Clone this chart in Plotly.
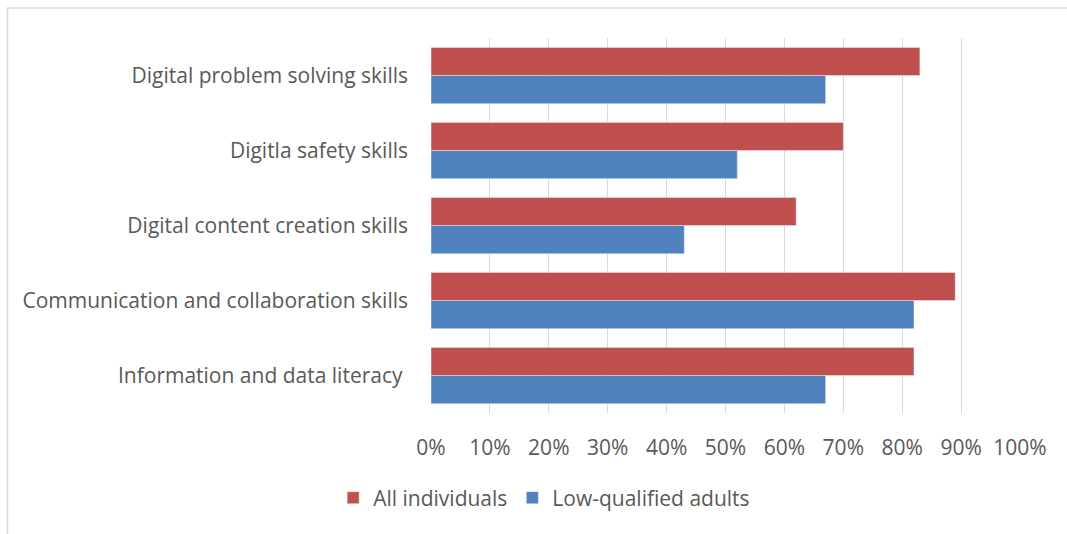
import plotly.graph_objects as go

# Skill categories, listed bottom to top
categories = [
    "Information and data literacy ",
    "Communication and collaboration skills",
    "Digital content creation skills",
    "Digitla safety skills",
    "Digital problem solving skills",
]
all_individuals = [0.82, 0.89, 0.62, 0.70, 0.83]
low_qualified = [0.67, 0.82, 0.43, 0.52, 0.67]

tick_vals = [i / 10 for i in range(11)]
tick_text = [f"{i * 10}%" for i in range(11)]

W, H = 1067, 534
ML, MR, MT, MB = 431, 47, 38, 121

fig = go.Figure()
fig.add_trace(go.Bar(
    y=categories, x=low_qualified, orientation="h",
    name="Low-qualified adults", marker_color="#4F81BD",
    legendrank=2,
))
fig.add_trace(go.Bar(
    y=categories, x=all_individuals, orientation="h",
    name="All individuals", marker_color="#C0504D",
    legendrank=1,
))

pw = W - ML - MR
ph = H - MT - MB
# light frame around the chart area
fig.add_shape(
    type="rect", xref="paper", yref="paper",
    x0=(7.5 - ML) / pw, x1=(W + 20 - ML) / pw,
    y0=-(H + 20 - MT - ph) / ph, y1=1 + (MT - 8) / ph,
    line=dict(color="#D9D9D9", width=1.5), layer="below",
)

font = dict(family="Open Sans, sans-serif", size=21, color="#595959")

fig.update_layout(
    width=W, height=H,
    margin=dict(l=ML, r=MR, t=MT, b=MB, pad=0),
    paper_bgcolor="white", plot_bgcolor="white",
    barmode="group", bargap=0.25, bargroupgap=0,
    font=font,
    showlegend=True,
    legend=dict(
        orientation="h", xref="container", yref="container",
        x=0.51, xanchor="center", y=1 - 498 / H, yanchor="middle",
        font=font, itemwidth=30, tracegroupgap=0,
    ),
    xaxis=dict(
        range=[0, 1], tickvals=tick_vals, ticktext=tick_text,
        showgrid=True, gridcolor="#D9D9D9", gridwidth=1.4,
        zeroline=False, showline=False, ticks="",
        ticklabelstandoff=20, tickfont=font, fixedrange=True,
    ),
    yaxis=dict(
        type="category", showgrid=False, zeroline=False,
        showline=False, ticks="", ticklabelstandoff=22,
        tickfont=font, fixedrange=True,
    ),
)

fig.write_html("out.html")
